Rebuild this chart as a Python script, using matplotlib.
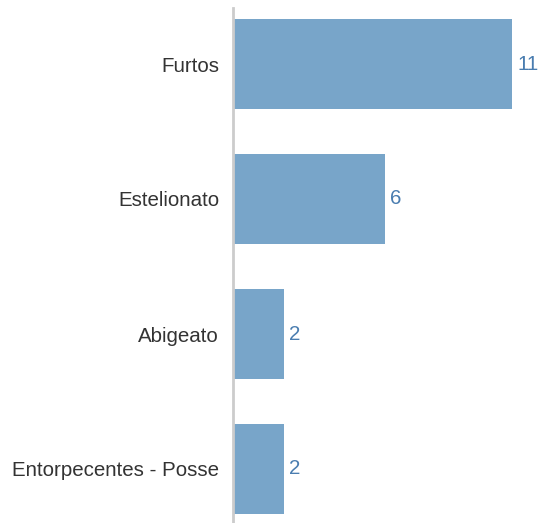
import matplotlib
matplotlib.use("Agg")
import matplotlib.pyplot as plt

categories = ["Furtos", "Estelionato", "Abigeato", "Entorpecentes - Posse"]
values = [11, 6, 2, 2]

W, H = 539, 523
fig = plt.figure(figsize=(W/100, H/100), dpi=100)
left, right = 233/W, 1.0
bottom, top = 0.0, 1 - 8/H
ax = fig.add_axes([left, bottom, right-left, top-bottom])

ypos = list(range(len(categories)))
bars = ax.barh(ypos, values, height=0.667, color="#78a5c9", zorder=2)
ax.set_ylim(3 + 54/135, -56/135)
ax.set_xlim(0, 306/25.4)
ax.set_yticks(ypos)
ax.set_yticklabels(categories, fontsize=14.8, color="#333333", family="Liberation Sans")
ax.tick_params(axis="y", length=0, pad=10)
ax.set_xticks([])
for s in ["top", "right", "bottom"]:
    ax.spines[s].set_visible(False)
ax.spines["left"].set_color("#cccccc")
ax.spines["left"].set_linewidth(2)
ax.spines["left"].set_zorder(3)

for y, v in zip(ypos, values):
    ax.annotate(str(v), (v, y), xytext=(3.5, 0), textcoords="offset points",
                va="center", ha="left", fontsize=14.8, color="#4a7db0",
                family="Liberation Sans")

fig.savefig("out.png", dpi=100)
